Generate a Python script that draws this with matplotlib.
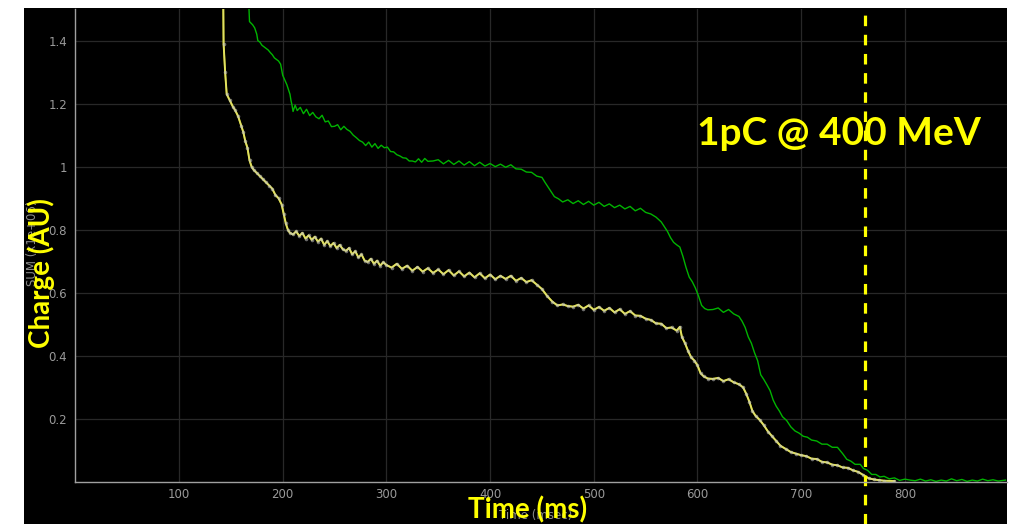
import numpy as np
import matplotlib.pyplot as plt
from matplotlib.patches import Rectangle
from matplotlib.ticker import FuncFormatter

# traza de carga (amarillo, con puntos grises encima)
tiempoCarga = [140, 142.5, 143, 144.5, 146, 149, 152, 154, 157, 160, 162, 164, 166, 168, 170,
               172, 175, 178, 181, 184, 187, 190, 193, 196, 199, 201, 203, 205, 207, 210,
               213, 216, 219, 222, 225, 228, 231, 234, 237, 240, 243, 246, 249, 252, 255,
               258, 261, 264, 267, 270, 273, 276, 279, 282, 285, 288, 291, 294, 297, 300,
               305, 310, 315, 320, 325, 330, 335, 340, 345, 350, 355, 360, 365, 370, 375,
               380, 385, 390, 395, 400, 405, 410, 415, 420, 425, 430, 435, 440, 445, 450,
               455, 460, 465, 470, 475, 480, 485, 490, 495, 500, 505, 510, 515, 520, 525,
               530, 535, 540, 545, 550, 555, 560, 565, 570, 575, 580, 583, 585, 588, 591,
               594, 597, 600, 603, 606, 610, 615, 620, 625, 630, 635, 640, 644, 647, 650,
               653, 656, 660, 664, 668, 672, 676, 680, 685, 690, 695, 700, 705, 710, 715,
               720, 725, 730, 735, 740, 745, 750, 755, 760, 765, 770, 775, 780, 790]
carga = [1.95, 1.60, 1.39, 1.30, 1.23, 1.21, 1.19, 1.18, 1.16, 1.13, 1.11, 1.08, 1.06, 1.02, 1.00,
         0.99, 0.98, 0.97, 0.96, 0.95, 0.94, 0.93, 0.91, 0.90, 0.88, 0.85, 0.82, 0.80, 0.79, 0.785,
         0.795, 0.78, 0.79, 0.772, 0.782, 0.768, 0.778, 0.762, 0.772, 0.752, 0.764, 0.748, 0.758, 0.742, 0.752,
         0.738, 0.733, 0.742, 0.722, 0.732, 0.712, 0.722, 0.702, 0.698, 0.708, 0.692, 0.702, 0.686, 0.697, 0.688,
         0.680, 0.692, 0.676, 0.686, 0.670, 0.682, 0.667, 0.678, 0.663, 0.674, 0.659, 0.672, 0.655, 0.668, 0.652,
         0.664, 0.649, 0.662, 0.646, 0.658, 0.643, 0.654, 0.644, 0.654, 0.638, 0.647, 0.634, 0.640, 0.626, 0.612,
         0.590, 0.572, 0.560, 0.563, 0.558, 0.556, 0.562, 0.550, 0.560, 0.546, 0.555, 0.543, 0.552, 0.538, 0.548,
         0.533, 0.542, 0.528, 0.527, 0.518, 0.514, 0.503, 0.502, 0.488, 0.490, 0.480, 0.492, 0.460, 0.440, 0.415,
         0.395, 0.385, 0.370, 0.345, 0.335, 0.328, 0.327, 0.330, 0.320, 0.326, 0.316, 0.310, 0.300, 0.280, 0.255,
         0.225, 0.210, 0.197, 0.180, 0.160, 0.145, 0.130, 0.115, 0.105, 0.095, 0.090, 0.085, 0.082, 0.074, 0.073,
         0.064, 0.062, 0.055, 0.053, 0.046, 0.045, 0.037, 0.032, 0.022, 0.012, 0.008, 0.006, 0.004, 0.003]

# traza verde
tiempoVerde = [166.5, 167.5, 168, 171, 173, 175, 176, 178, 180, 182, 184, 186, 188, 190, 192,
               194, 196, 198, 200, 202, 204, 206, 207, 208, 209, 210, 212, 214, 217, 220,
               223, 226, 229, 232, 235, 238, 241, 244, 247, 250, 253, 256, 259, 262, 265,
               268, 271, 274, 277, 280, 283, 286, 289, 292, 295, 298, 301, 304, 307, 310,
               313, 316, 319, 322, 325, 328, 331, 334, 337, 340, 345, 350, 355, 360, 365,
               370, 375, 380, 385, 390, 395, 400, 405, 410, 415, 420, 425, 430, 435, 440,
               445, 450, 453, 456, 459, 462, 466, 470, 475, 480, 485, 490, 495, 500, 505,
               510, 515, 520, 525, 530, 535, 540, 545, 550, 555, 560, 565, 568, 571, 574,
               577, 580, 583, 586, 589, 592, 595, 598, 601, 604, 607, 610, 615, 620, 625,
               630, 635, 640, 643, 646, 649, 652, 655, 658, 661, 664, 667, 670, 673, 676,
               679, 682, 686, 690, 694, 698, 702, 706, 710, 715, 720, 725, 730, 735, 740,
               744, 748, 752, 757, 760, 764, 768, 772, 776, 780, 785, 790, 795, 800, 805,
               810, 815, 820, 825, 830, 835, 840, 845, 850, 855, 860, 865, 870, 875, 880,
               885, 890, 897]
cargaVerde = [1.90, 1.50, 1.46, 1.45, 1.44, 1.42, 1.40, 1.395, 1.385, 1.38, 1.375, 1.37, 1.362, 1.355, 1.345,
              1.34, 1.335, 1.325, 1.29, 1.275, 1.26, 1.24, 1.23, 1.21, 1.195, 1.175, 1.195, 1.178, 1.188, 1.168,
              1.182, 1.162, 1.172, 1.158, 1.152, 1.163, 1.142, 1.145, 1.127, 1.128, 1.133, 1.117, 1.128, 1.118, 1.112,
              1.10, 1.092, 1.083, 1.078, 1.067, 1.078, 1.062, 1.073, 1.058, 1.068, 1.060, 1.062, 1.048, 1.047, 1.038,
              1.034, 1.028, 1.027, 1.018, 1.018, 1.015, 1.025, 1.014, 1.026, 1.017, 1.018, 1.022, 1.009, 1.020, 1.007,
              1.018, 1.005, 1.016, 1.003, 1.014, 1.002, 1.010, 1.000, 1.008, 0.998, 1.006, 0.993, 0.992, 0.983, 0.982,
              0.970, 0.966, 0.950, 0.935, 0.920, 0.905, 0.898, 0.888, 0.895, 0.883, 0.892, 0.880, 0.890, 0.878, 0.887,
              0.874, 0.882, 0.870, 0.878, 0.866, 0.874, 0.860, 0.868, 0.855, 0.850, 0.840, 0.825, 0.810, 0.795, 0.775,
              0.760, 0.752, 0.745, 0.715, 0.680, 0.650, 0.635, 0.615, 0.590, 0.560, 0.550, 0.546, 0.547, 0.552, 0.538,
              0.547, 0.533, 0.525, 0.510, 0.490, 0.460, 0.440, 0.410, 0.385, 0.340, 0.325, 0.308, 0.290, 0.260, 0.240,
              0.225, 0.207, 0.195, 0.175, 0.162, 0.155, 0.145, 0.142, 0.133, 0.130, 0.120, 0.120, 0.110, 0.110, 0.090,
              0.072, 0.066, 0.056, 0.056, 0.043, 0.037, 0.024, 0.024, 0.016, 0.018, 0.010, 0.013, 0.005, 0.009, 0.006,
              0.004, 0.009, 0.003, 0.007, 0.002, 0.006, 0.003, 0.010, 0.004, 0.008, 0.002, 0.006, 0.003, 0.009, 0.004,
              0.007, 0.003, 0.006]

cursorMs = 761.5
ticksX = [100, 200, 300, 400, 500, 600, 700, 800]
ticksY = [0.2, 0.4, 0.6, 0.8, 1.0, 1.2, 1.4]

W, H = 1021, 524
fig = plt.figure(figsize=(W / 100, H / 100), dpi=100, facecolor='white')
# fondo negro de la captura
fig.patches.append(Rectangle((24 / W, 0), (1007 - 24) / W, (H - 8) / H,
                             transform=fig.transFigure, facecolor='black', zorder=-5))

ax = fig.add_axes([75.3 / W, (H - 482) / H, (1007 - 75.3) / W, (482 - 9) / H])
ax.set_zorder(1)
ax.set_facecolor('black')
ax.set_xlim(0, 898.5)
ax.set_ylim(0, 1.5)
ax.set_xticks(ticksX)
ax.set_yticks(ticksY)
ax.yaxis.set_major_formatter(FuncFormatter(lambda v, p: '%g' % v))
ax.tick_params(length=0, colors='#9a9a9a', labelsize=8.5)
ax.tick_params(axis='x', pad=4)
ax.tick_params(axis='y', pad=6)
ax.grid(True, color='#282828', linewidth=0.9)
for lado in ['top', 'right']:
    ax.spines[lado].set_visible(False)
for lado in ['left', 'bottom']:
    ax.spines[lado].set_color('#a0a0a0')
    ax.spines[lado].set_linewidth(1)
    ax.spines[lado].set_zorder(6)

ax.plot(tiempoVerde, cargaVerde, color='#00b400', linewidth=1.0, zorder=3)
ax.plot(tiempoCarga, carga, color='#ffff00', linewidth=1.4, zorder=3)
ax.plot(tiempoCarga, carga, color='#c4c4c4', linewidth=1.2, alpha=0.55,
        marker='o', markersize=2.6, markeredgewidth=0, zorder=4)

# etiquetas originales del programa (grises, por debajo)
fig.text(32 / W, 1 - 243 / H, 'SUM (x1e+06)', rotation=90, color='#8a8a8a',
         fontsize=8.5, ha='center', va='center', zorder=2)
fig.text(536 / W, 1 - 516 / H, 'Time (msec)', color='#8a8a8a',
         fontsize=8.5, ha='center', va='center', zorder=2)

fig.text(41 / W, 1 - 273 / H, 'Charge (AU)', rotation=90, color='#ffff00',
         fontsize=20, fontweight='bold', family='Lato', ha='center', va='center', zorder=7)
fig.text(528 / W, 1 - 510 / H, 'Time (ms)', color='#ffff00',
         fontsize=20, fontweight='bold', family='Lato', ha='center', va='center', zorder=7)

ax.text((697 - 75.3) / 1.0371, (482.05 - 134) / 315.25, '1pC @ 400 MeV', color='#ffff00',
        fontsize=28, fontweight='bold', family='Lato', ha='left', va='center', zorder=4)

ax.axvline(cursorMs, ymin=-0.089, ymax=1, color='#ffff00', linewidth=2.3,
           linestyle=(0, (3.3, 2.7)), clip_on=False, zorder=5)

fig.savefig('out.png', dpi=100, facecolor='white')
